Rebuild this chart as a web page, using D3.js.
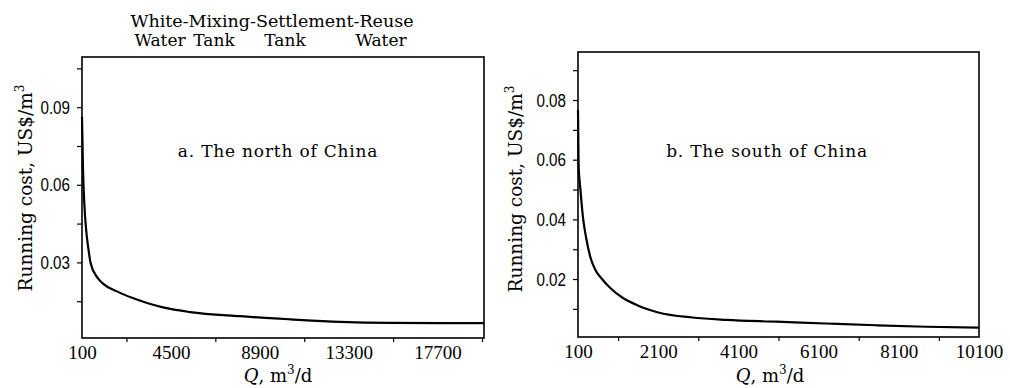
<!DOCTYPE html>
<html>
<head>
<meta charset="utf-8">
<script src="https://cdn.jsdelivr.net/npm/d3@7"></script>
<style>
  body { margin: 0; background: #fff; }
  svg { display: block; }
  text { fill: #000; }
</style>
</head>
<body>
<div id="chart"></div>
<script>
// panel a: north of China
const northQ = [100, 150, 220, 300, 420, 520, 830, 1140, 1830, 2580, 3320, 4110, 5450, 7920, 10400, 12870, 15350, 20000];
const northCost = [0.0862, 0.066, 0.052, 0.043, 0.035, 0.030, 0.0245, 0.0218, 0.0188, 0.0163, 0.0143, 0.0126, 0.0108, 0.0092, 0.0080, 0.0070, 0.0066, 0.0065];
const northXLabels = [100, 4500, 8900, 13300, 17700];
const northXMinor = [2300, 6700, 11100, 15500, 19900];
const northYLabels = [0.03, 0.06, 0.09];
const northYTicks = [0.015, 0.03, 0.045, 0.06, 0.075, 0.09, 0.105];

// panel b: south of China
const southQ = [100, 115, 157, 232, 299, 407, 531, 698, 905, 1204, 1578, 2101, 2948, 3795, 5041, 6287, 7533, 8779, 10100];
const southCost = [0.0767, 0.058, 0.0505, 0.0398, 0.0341, 0.0274, 0.0231, 0.0200, 0.0170, 0.0138, 0.0112, 0.0088, 0.0071, 0.0063, 0.0057, 0.0051, 0.0045, 0.0040, 0.0037];
const southXLabels = [100, 2100, 4100, 6100, 8100, 10100];
const southXMinor = [1100, 3100, 5100, 7100, 9100];
const southYLabels = [0.02, 0.04, 0.06, 0.08];
const southYTicks = [0.01, 0.02, 0.03, 0.04, 0.05, 0.06, 0.07, 0.08, 0.09];

const headerTop = 'White-Mixing-Settlement-Reuse';
const headerWords = ['Water', 'Tank', 'Tank', 'Water'];

const svg = d3.select('#chart').append('svg')
    .attr('width', 1010)
    .attr('height', 388);

const serif = "'DejaVu Serif', serif";
const timesLike = "'Liberation Serif', serif";
const sans = "'Liberation Sans', Arial, sans-serif";

function drawPanel(cfg) {
    const x = d3.scaleLinear().domain(cfg.xDomain).range([cfg.left, cfg.right]);
    const y = d3.scaleLinear().domain(cfg.yDomain).range([cfg.yZero, cfg.yTop]);

    const g = svg.append('g');

    // frame
    g.append('rect')
        .attr('x', cfg.left)
        .attr('y', cfg.top)
        .attr('width', cfg.right - cfg.left)
        .attr('height', cfg.bottom - cfg.top)
        .attr('fill', 'none')
        .attr('stroke', '#000')
        .attr('stroke-width', 1.6);

    // y axis
    const yAxis = g.append('g')
        .attr('transform', `translate(${cfg.left},0)`)
        .call(d3.axisLeft(y).tickValues(cfg.yTicks).tickSize(5).tickPadding(7)
            .tickFormat(d => cfg.yLabels.some(v => Math.abs(v - d) < 1e-9) ? d3.format('.2f')(d) : ''));
    yAxis.select('.domain').remove();
    yAxis.selectAll('line').attr('stroke-width', 1.2);
    yAxis.selectAll('text')
        .attr('font-family', sans)
        .attr('font-size', 19)
        .attr('transform', 'scale(0.8,1)')
        .attr('x', -12 / 0.8);

    // x axis: ticks between labels only
    const xTicks = g.append('g')
        .attr('transform', `translate(0,${cfg.bottom})`)
        .call(d3.axisBottom(x).tickValues(cfg.xMinor).tickSize(4).tickFormat(''));
    xTicks.select('.domain').remove();
    xTicks.selectAll('line').attr('stroke-width', 1.2);

    const xLab = g.append('g')
        .attr('transform', `translate(0,${cfg.bottom})`)
        .call(d3.axisBottom(x).tickValues(cfg.xLabels).tickSize(0).tickPadding(8).tickFormat(d3.format('d')));
    xLab.select('.domain').remove();
    xLab.selectAll('text')
        .attr('font-family', timesLike)
        .attr('font-size', 19);

    // curve
    const line = d3.line()
        .x(d => x(d[0]))
        .y(d => y(d[1]))
        .curve(d3.curveMonotoneX);
    g.append('path')
        .datum(d3.zip(cfg.q, cfg.cost))
        .attr('fill', 'none')
        .attr('stroke', '#000')
        .attr('stroke-width', 2.2)
        .attr('d', line);

    // panel caption
    g.append('text')
        .attr('x', cfg.captionX)
        .attr('y', 157)
        .attr('text-anchor', 'middle')
        .attr('font-family', serif)
        .attr('font-size', 17)
        .attr('letter-spacing', 0.8)
        .text(cfg.caption);

    // x title
    const xt = g.append('text')
        .attr('x', cfg.xTitleX)
        .attr('y', 382)
        .attr('text-anchor', 'middle')
        .attr('font-family', serif)
        .attr('font-size', 18);
    xt.append('tspan').attr('font-style', 'italic').text('Q');
    xt.append('tspan').text(', m');
    xt.append('tspan').attr('dy', -8).attr('font-size', 12).text('3');
    xt.append('tspan').attr('dy', 8).text('/d');

    // y title
    const yt = g.append('text')
        .attr('transform', `translate(${cfg.yTitleX},${cfg.yTitleY}) rotate(-90)`)
        .attr('text-anchor', 'middle')
        .attr('font-family', serif)
        .attr('font-size', 18.5);
    yt.append('tspan').text('Running cost, US$/m');
    yt.append('tspan').attr('dy', -8).attr('font-size', 12).text('3');
}

drawPanel({
    left: 82, right: 484, top: 57, bottom: 338,
    xDomain: [100, 20000], yDomain: [0, 0.1094], yZero: 340, yTop: 57,
    q: northQ, cost: northCost,
    xLabels: northXLabels, xMinor: northXMinor,
    yLabels: northYLabels, yTicks: northYTicks,
    caption: 'a. The north of China', captionX: 278,
    xTitleX: 278, yTitleX: 32, yTitleY: 188
});

drawPanel({
    left: 578, right: 979, top: 52, bottom: 337,
    xDomain: [100, 10100], yDomain: [0, 0.0961], yZero: 338.7, yTop: 52,
    q: southQ, cost: southCost,
    xLabels: southXLabels, xMinor: southXMinor,
    yLabels: southYLabels, yTicks: southYTicks,
    caption: 'b. The south of China', captionX: 767,
    xTitleX: 770, yTitleX: 522, yTitleY: 189
});

// header above panel a
svg.append('text')
    .attr('x', 272)
    .attr('y', 27)
    .attr('text-anchor', 'middle')
    .attr('font-family', serif)
    .attr('font-size', 17.5)
    .text(headerTop);

const headerX = [160, 214, 285, 381];
svg.selectAll('text.hdr')
    .data(headerWords)
    .join('text')
    .attr('class', 'hdr')
    .attr('x', (d, i) => headerX[i])
    .attr('y', 46)
    .attr('text-anchor', 'middle')
    .attr('font-family', serif)
    .attr('font-size', 17)
    .text(d => d);
</script>
</body>
</html>
